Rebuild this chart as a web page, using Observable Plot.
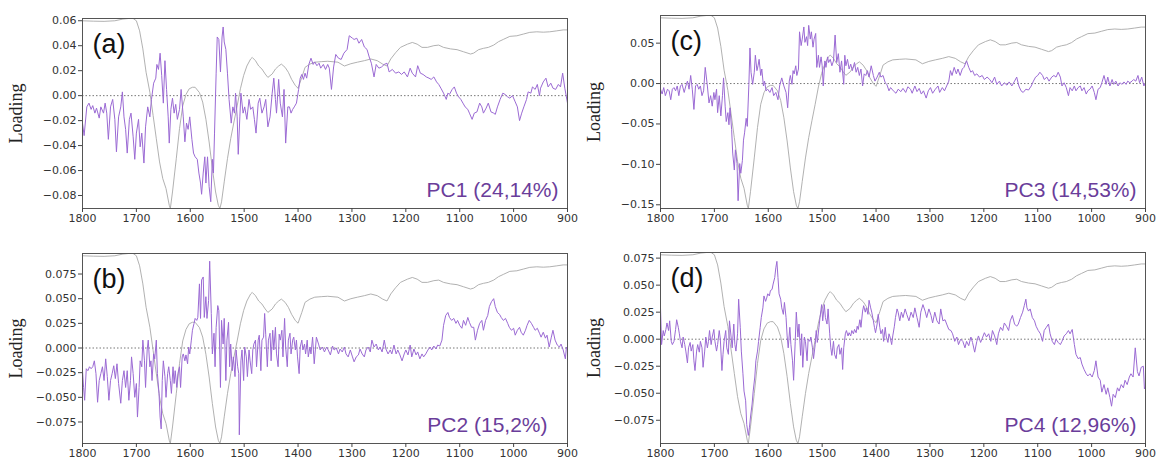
<!DOCTYPE html>
<html><head><meta charset="utf-8">
<script src="https://cdn.jsdelivr.net/npm/d3@7"></script>
<script src="https://cdn.jsdelivr.net/npm/@observablehq/plot@0.6"></script>
<style>
body{margin:0;background:#fff;}
#wrap{position:relative;width:1157px;height:463px;overflow:hidden;background:#fff;}
.panel{position:absolute;}
</style></head><body><div id="wrap"></div>
<script>
const wavenumberTicks = [1800,1700,1600,1500,1400,1300,1200,1100,1000,900];
const ticksA = [-0.08,-0.06,-0.04,-0.02,0,0.02,0.04,0.06];
const ticksC = [-0.15,-0.10,-0.05,0,0.05];
const ticksBD = [-0.075,-0.05,-0.025,0,0.025,0.05,0.075];

const pc1 = [[1800,-0.022],[1797,-0.032],[1792,-0.009],[1788,-0.006],[1784,-0.011],[1781,-0.008],[1777,-0.014],[1774,-0.010],[1769,-0.018],[1766,-0.009],[1761,-0.014],[1758,-0.006],[1755,-0.014],[1752,-0.035],[1748,-0.009],[1744,-0.003],[1740,-0.019],[1737,-0.045],[1733,-0.017],[1729,-0.009],[1726,0.003],[1723,-0.017],[1720,-0.027],[1717,-0.046],[1713,-0.019],[1710,-0.014],[1706,-0.033],[1703,-0.051],[1700,-0.030],[1696,-0.019],[1693,-0.041],[1690,-0.030],[1686,-0.054],[1683,-0.025],[1679,-0.009],[1675,-0.017],[1672,-0.003],[1668,0.010],[1664,0.014],[1662,0.025],[1659,0.021],[1656,0.034],[1653,0.016],[1650,-0.006],[1647,0.028],[1644,0.005],[1641,-0.017],[1639,-0.038],[1636,-0.011],[1633,-0.002],[1630,-0.014],[1627,-0.007],[1624,-0.019],[1620,-0.011],[1617,0.005],[1613,-0.017],[1610,-0.037],[1607,-0.022],[1604,-0.027],[1601,-0.017],[1597,-0.035],[1594,-0.046],[1591,-0.049],[1587,-0.051],[1584,-0.062],[1581,-0.070],[1579,-0.079],[1576,-0.062],[1573,-0.049],[1571,-0.070],[1568,-0.049],[1565,-0.073],[1562,-0.085],[1559,-0.051],[1557,-0.062],[1555,-0.030],[1552,0.018],[1550,0.047],[1547,0.045],[1544,0.019],[1541,0.047],[1539,0.055],[1537,0.043],[1534,0.037],[1531,0.018],[1528,-0.003],[1524,-0.022],[1521,-0.009],[1518,-0.014],[1516,0.002],[1513,-0.017],[1511,-0.047],[1508,-0.017],[1506,0.002],[1502,-0.014],[1499,-0.009],[1495,-0.019],[1491,-0.003],[1488,-0.011],[1484,-0.009],[1481,-0.019],[1478,-0.030],[1474,-0.006],[1471,-0.002],[1467,-0.014],[1463,-0.009],[1460,-0.003],[1456,-0.025],[1452,-0.017],[1448,0.002],[1445,0.014],[1442,-0.003],[1440,-0.014],[1436,0.013],[1433,-0.006],[1429,-0.017],[1426,0.005],[1423,-0.038],[1419,-0.009],[1416,-0.009],[1413,-0.014],[1410,-0.011],[1407,-0.009],[1403,-0.006],[1399,0.005],[1396,0.014],[1393,0.017],[1390,0.013],[1387,0.018],[1384,0.014],[1380,0.025],[1376,0.030],[1372,0.025],[1369,0.027],[1365,0.024],[1361,0.026],[1358,0.022],[1353,0.025],[1349,0.021],[1345,0.025],[1342,0.022],[1338,0.005],[1334,0.023],[1330,0.033],[1325,0.030],[1320,0.029],[1315,0.034],[1309,0.037],[1305,0.048],[1299,0.046],[1296,0.045],[1291,0.046],[1287,0.042],[1282,0.045],[1277,0.039],[1272,0.037],[1268,0.031],[1264,0.026],[1259,0.015],[1255,0.025],[1250,0.022],[1245,0.023],[1240,0.025],[1235,0.026],[1231,0.019],[1225,0.021],[1219,0.018],[1213,0.019],[1208,0.017],[1203,0.019],[1197,0.015],[1192,0.022],[1188,0.018],[1182,0.015],[1178,0.024],[1173,0.018],[1168,0.017],[1162,0.015],[1157,0.014],[1153,0.013],[1148,0.015],[1143,0.011],[1139,0.009],[1135,0.006],[1130,0.002],[1125,-0.003],[1122,0.002],[1119,0.001],[1114,0.005],[1110,0.007],[1106,0.002],[1102,-0.001],[1098,-0.003],[1094,-0.006],[1090,-0.009],[1085,-0.011],[1082,-0.014],[1077,-0.019],[1073,-0.014],[1068,-0.013],[1063,-0.006],[1059,-0.009],[1056,-0.014],[1051,-0.010],[1047,-0.006],[1042,-0.013],[1037,-0.014],[1034,-0.015],[1030,-0.009],[1025,-0.003],[1020,0.002],[1016,0.001],[1011,-0.001],[1007,-0.002],[1002,0.000],[997,-0.005],[993,-0.009],[989,-0.020],[985,-0.014],[981,-0.009],[976,-0.003],[973,0.003],[968,0.002],[965,0.007],[960,0.005],[956,0.009],[952,0.000],[950,0.006],[945,0.011],[940,0.014],[936,0.007],[931,0.010],[927,0.006],[922,0.005],[917,0.009],[913,0.007],[909,0.018],[905,0.006],[900,-0.006]];

const pc2 = [[1800,-0.023],[1798,-0.040],[1796,-0.053],[1793,-0.021],[1790,-0.023],[1787,-0.019],[1784,-0.021],[1781,-0.019],[1778,-0.013],[1775,-0.026],[1772,-0.055],[1769,-0.033],[1766,-0.026],[1763,-0.019],[1760,-0.033],[1757,-0.011],[1754,-0.029],[1751,-0.053],[1748,-0.033],[1745,-0.026],[1742,-0.018],[1739,-0.031],[1736,-0.016],[1733,-0.036],[1729,-0.056],[1726,-0.033],[1723,-0.023],[1720,-0.040],[1717,-0.023],[1714,-0.053],[1711,-0.033],[1709,-0.009],[1706,-0.026],[1703,-0.050],[1700,-0.036],[1698,-0.070],[1695,-0.040],[1693,-0.013],[1690,-0.019],[1688,0.008],[1685,-0.013],[1683,-0.040],[1680,-0.002],[1678,0.008],[1675,-0.019],[1673,-0.013],[1671,-0.033],[1668,-0.006],[1666,-0.011],[1663,0.008],[1661,-0.026],[1658,-0.046],[1656,-0.070],[1654,-0.082],[1652,-0.033],[1650,-0.013],[1647,-0.029],[1645,-0.050],[1642,-0.026],[1640,-0.019],[1637,-0.033],[1635,-0.046],[1632,-0.019],[1630,-0.036],[1628,-0.023],[1625,-0.040],[1623,-0.026],[1620,-0.019],[1618,-0.040],[1615,-0.009],[1613,-0.006],[1610,-0.013],[1608,-0.007],[1605,-0.016],[1603,0.001],[1601,-0.006],[1598,0.008],[1596,0.018],[1593,0.025],[1591,0.030],[1588,0.028],[1586,0.031],[1583,0.065],[1581,0.030],[1579,0.069],[1576,0.072],[1574,0.031],[1571,0.052],[1569,0.030],[1566,0.048],[1564,0.088],[1561,0.035],[1559,-0.006],[1556,0.015],[1554,-0.019],[1552,0.021],[1549,0.043],[1547,0.038],[1544,-0.040],[1542,0.028],[1539,0.004],[1537,0.030],[1534,-0.033],[1532,0.008],[1529,0.026],[1527,-0.019],[1525,0.004],[1522,-0.023],[1520,-0.009],[1517,-0.029],[1515,-0.002],[1512,-0.019],[1510,-0.026],[1509,-0.088],[1506,-0.013],[1504,-0.002],[1501,-0.033],[1499,0.001],[1496,-0.009],[1494,-0.029],[1491,-0.002],[1489,-0.013],[1486,-0.026],[1484,-0.002],[1482,0.004],[1479,0.008],[1477,-0.019],[1474,0.008],[1472,0.013],[1469,-0.023],[1467,0.008],[1464,0.011],[1462,0.035],[1460,0.014],[1457,-0.019],[1455,0.008],[1452,0.015],[1450,-0.013],[1447,0.018],[1445,-0.002],[1442,0.021],[1440,-0.006],[1437,-0.019],[1435,0.014],[1433,0.008],[1430,0.018],[1428,-0.009],[1425,0.030],[1423,0.001],[1420,-0.019],[1418,0.008],[1415,0.015],[1413,-0.006],[1410,0.008],[1408,0.011],[1405,-0.002],[1403,0.008],[1401,-0.009],[1398,-0.026],[1396,0.001],[1393,0.008],[1391,-0.002],[1388,0.004],[1386,-0.006],[1383,0.008],[1381,-0.009],[1378,0.001],[1376,-0.006],[1373,0.011],[1370,-0.016],[1366,0.011],[1362,0.004],[1359,-0.002],[1355,0.001],[1351,-0.004],[1347,0.001],[1344,-0.002],[1340,-0.007],[1336,0.002],[1333,-0.002],[1329,0.000],[1325,-0.006],[1322,-0.001],[1318,-0.004],[1314,0.001],[1311,-0.006],[1307,-0.009],[1303,-0.002],[1299,-0.009],[1296,-0.014],[1292,-0.009],[1288,-0.007],[1285,-0.001],[1281,-0.006],[1277,-0.009],[1274,-0.002],[1270,0.001],[1266,-0.004],[1263,0.008],[1259,0.001],[1255,0.004],[1251,-0.002],[1248,0.001],[1244,-0.004],[1240,0.008],[1237,-0.001],[1233,-0.006],[1229,-0.002],[1226,-0.006],[1222,0.003],[1218,-0.006],[1215,-0.002],[1211,-0.007],[1207,-0.013],[1203,-0.006],[1200,-0.002],[1196,-0.007],[1192,0.003],[1189,-0.009],[1185,-0.001],[1181,-0.007],[1178,-0.004],[1174,-0.011],[1170,-0.006],[1167,-0.009],[1163,-0.006],[1159,-0.002],[1155,0.001],[1152,-0.002],[1148,0.002],[1144,-0.001],[1141,0.003],[1137,0.002],[1133,0.008],[1130,0.023],[1126,0.033],[1122,0.036],[1119,0.031],[1115,0.028],[1111,0.030],[1107,0.025],[1104,0.028],[1100,0.023],[1096,0.020],[1093,0.028],[1089,0.023],[1085,0.031],[1082,0.026],[1078,0.021],[1074,0.021],[1071,0.008],[1067,0.018],[1063,0.025],[1059,0.028],[1056,0.018],[1052,0.028],[1048,0.033],[1045,0.042],[1041,0.047],[1037,0.050],[1034,0.042],[1030,0.036],[1026,0.034],[1023,0.031],[1019,0.028],[1015,0.030],[1011,0.025],[1008,0.021],[1004,0.018],[1000,0.020],[997,0.013],[993,0.018],[989,0.021],[986,0.016],[982,0.013],[978,0.018],[975,0.023],[971,0.028],[967,0.025],[963,0.021],[960,0.018],[956,0.020],[952,0.015],[949,0.011],[945,0.016],[941,0.010],[938,0.013],[934,0.001],[930,0.011],[927,0.018],[923,0.008],[919,0.003],[915,0.001],[912,0.004],[908,-0.002],[904,-0.011],[902,0.001],[900,-0.001]];

const pc3 = [[1800,-0.007],[1797,-0.013],[1794,-0.005],[1791,-0.015],[1787,-0.007],[1784,-0.009],[1781,-0.020],[1778,-0.007],[1775,-0.005],[1772,-0.009],[1769,-0.003],[1766,-0.015],[1763,-0.003],[1760,-0.001],[1756,-0.011],[1753,-0.003],[1750,0.003],[1747,-0.007],[1744,0.010],[1741,-0.007],[1738,-0.032],[1735,-0.003],[1732,-0.001],[1729,-0.007],[1726,-0.003],[1723,-0.015],[1720,-0.009],[1717,0.020],[1713,-0.003],[1710,-0.024],[1707,-0.015],[1704,-0.028],[1701,-0.011],[1699,-0.020],[1696,-0.007],[1694,-0.036],[1691,-0.015],[1688,-0.040],[1685,-0.015],[1683,0.007],[1680,-0.028],[1678,-0.047],[1675,-0.036],[1673,-0.051],[1671,-0.030],[1668,-0.057],[1666,-0.086],[1663,-0.107],[1661,-0.082],[1658,-0.099],[1656,-0.145],[1653,-0.099],[1651,-0.111],[1648,-0.095],[1646,-0.070],[1644,-0.061],[1641,-0.043],[1639,-0.053],[1636,-0.001],[1634,0.044],[1632,0.014],[1629,-0.001],[1626,0.014],[1624,0.035],[1621,0.016],[1619,0.022],[1617,0.030],[1614,0.010],[1612,0.018],[1609,-0.003],[1607,0.003],[1604,-0.009],[1601,-0.007],[1597,-0.011],[1593,-0.005],[1590,-0.015],[1586,-0.011],[1582,-0.020],[1579,-0.003],[1575,0.007],[1571,-0.003],[1567,-0.011],[1564,-0.030],[1561,0.003],[1559,0.010],[1556,-0.001],[1554,0.016],[1552,0.012],[1549,0.022],[1547,0.010],[1544,0.018],[1542,0.064],[1539,0.047],[1537,0.055],[1534,0.070],[1532,0.051],[1529,0.058],[1527,0.047],[1525,0.072],[1522,0.055],[1520,0.064],[1517,0.045],[1515,0.055],[1512,0.062],[1510,0.020],[1507,0.035],[1505,0.020],[1502,0.033],[1500,0.022],[1498,-0.003],[1495,0.028],[1493,0.020],[1490,0.033],[1488,0.026],[1485,0.030],[1482,0.022],[1479,0.028],[1476,0.060],[1473,0.026],[1470,0.037],[1467,0.014],[1464,0.028],[1460,-0.001],[1458,0.035],[1456,0.022],[1453,0.030],[1450,0.018],[1447,0.024],[1444,0.016],[1440,0.026],[1437,0.014],[1434,0.020],[1431,0.010],[1428,0.018],[1425,-0.003],[1422,0.012],[1419,0.010],[1416,0.016],[1413,0.008],[1409,0.022],[1405,0.010],[1402,0.003],[1398,0.008],[1394,0.014],[1391,0.008],[1387,0.010],[1383,0.001],[1380,-0.001],[1376,-0.009],[1373,-0.005],[1368,-0.009],[1363,-0.012],[1359,-0.007],[1354,-0.010],[1350,-0.006],[1345,-0.011],[1341,-0.004],[1336,-0.007],[1333,-0.012],[1328,-0.003],[1324,-0.010],[1320,-0.006],[1316,-0.013],[1312,-0.009],[1307,-0.018],[1303,-0.009],[1299,-0.005],[1295,-0.012],[1290,-0.007],[1285,-0.003],[1282,-0.011],[1277,-0.005],[1273,-0.009],[1269,-0.003],[1265,0.003],[1262,0.016],[1259,0.010],[1255,0.020],[1251,0.012],[1248,0.018],[1244,0.010],[1240,0.018],[1237,0.020],[1232,0.028],[1228,0.020],[1224,0.014],[1221,0.016],[1217,0.010],[1213,0.012],[1208,0.008],[1203,0.010],[1199,0.005],[1194,0.008],[1189,0.005],[1185,0.001],[1180,0.008],[1176,-0.001],[1171,0.003],[1167,-0.003],[1162,0.001],[1157,-0.002],[1153,0.002],[1148,-0.003],[1143,0.003],[1139,0.008],[1135,-0.003],[1131,-0.009],[1127,-0.011],[1122,-0.007],[1117,-0.008],[1112,-0.003],[1108,0.003],[1104,0.008],[1100,0.010],[1096,0.014],[1091,0.010],[1088,0.005],[1083,0.008],[1079,0.003],[1074,0.008],[1070,0.010],[1066,0.008],[1062,0.014],[1058,0.008],[1055,-0.003],[1051,0.001],[1047,-0.005],[1043,-0.015],[1040,-0.005],[1036,-0.009],[1032,-0.003],[1029,-0.009],[1025,-0.005],[1021,-0.003],[1018,-0.009],[1014,-0.005],[1010,-0.013],[1007,-0.009],[1003,-0.007],[999,-0.003],[995,-0.011],[992,-0.020],[988,-0.007],[984,-0.005],[981,0.001],[977,0.010],[973,-0.001],[970,0.008],[966,-0.003],[962,0.005],[959,-0.001],[955,0.003],[951,-0.003],[947,0.001],[944,-0.001],[940,0.002],[936,-0.001],[933,0.003],[929,0.001],[925,0.003],[922,0.005],[918,0.003],[914,0.010],[911,0.001],[907,0.008],[903,-0.003],[900,0.001]];

const pc4 = [[1800,0.029],[1798,-0.005],[1795,0.008],[1793,0.003],[1790,0.009],[1788,0.015],[1785,0.008],[1783,0.017],[1780,-0.002],[1778,-0.005],[1775,-0.002],[1772,0.009],[1770,0.018],[1767,0.011],[1765,0.005],[1763,-0.002],[1760,-0.008],[1758,0.002],[1755,-0.005],[1753,-0.011],[1750,-0.022],[1748,-0.008],[1745,-0.003],[1743,-0.011],[1740,-0.005],[1738,-0.020],[1736,-0.029],[1733,-0.011],[1731,-0.005],[1728,-0.012],[1726,-0.002],[1723,-0.008],[1721,-0.026],[1718,-0.011],[1716,0.002],[1713,-0.008],[1711,-0.002],[1709,0.008],[1706,-0.005],[1704,0.002],[1701,0.009],[1699,-0.002],[1696,-0.011],[1694,-0.005],[1691,0.008],[1689,0.000],[1686,-0.029],[1684,-0.014],[1682,-0.002],[1679,0.008],[1677,-0.008],[1674,-0.014],[1672,0.017],[1669,0.002],[1667,-0.008],[1664,0.014],[1662,-0.005],[1660,-0.011],[1657,0.005],[1655,0.037],[1652,0.011],[1650,-0.011],[1647,-0.032],[1645,-0.048],[1642,-0.057],[1640,-0.079],[1637,-0.089],[1635,-0.082],[1633,-0.072],[1630,-0.060],[1628,-0.048],[1625,-0.035],[1623,-0.020],[1620,-0.011],[1618,-0.002],[1615,0.011],[1613,0.020],[1610,0.029],[1608,0.040],[1605,0.035],[1603,0.038],[1601,0.042],[1598,0.040],[1596,0.045],[1593,0.046],[1591,0.051],[1588,0.057],[1586,0.066],[1584,0.072],[1582,0.057],[1580,0.042],[1577,0.037],[1575,0.029],[1572,0.023],[1570,0.034],[1567,0.020],[1565,0.003],[1563,-0.008],[1560,0.011],[1558,-0.005],[1555,-0.020],[1553,-0.038],[1550,-0.002],[1548,0.025],[1545,0.002],[1543,0.014],[1540,-0.015],[1538,0.005],[1536,-0.026],[1533,0.002],[1531,-0.002],[1528,-0.020],[1526,0.000],[1523,-0.002],[1521,0.002],[1518,-0.008],[1516,-0.018],[1513,-0.005],[1511,0.008],[1509,-0.003],[1506,0.011],[1504,0.020],[1501,0.032],[1499,0.017],[1496,0.032],[1494,0.020],[1491,0.014],[1489,0.028],[1486,0.005],[1484,-0.008],[1482,-0.015],[1479,-0.002],[1477,-0.014],[1474,-0.018],[1472,-0.008],[1469,-0.005],[1467,-0.014],[1464,-0.008],[1462,-0.028],[1460,-0.008],[1457,0.005],[1455,0.008],[1452,0.003],[1450,0.006],[1447,0.003],[1445,0.008],[1442,0.005],[1440,0.009],[1437,0.006],[1435,0.012],[1433,0.009],[1430,0.018],[1428,0.011],[1425,0.026],[1423,0.031],[1420,0.025],[1418,0.029],[1415,0.023],[1413,0.036],[1410,0.029],[1408,0.025],[1405,0.017],[1403,0.011],[1401,0.006],[1398,0.014],[1396,0.023],[1393,0.011],[1391,0.005],[1388,0.009],[1386,-0.002],[1383,0.011],[1381,0.002],[1378,-0.003],[1376,0.005],[1374,0.002],[1371,-0.005],[1369,0.003],[1366,0.012],[1364,0.020],[1361,0.028],[1359,0.025],[1356,0.017],[1353,0.025],[1350,0.020],[1346,0.028],[1343,0.023],[1339,0.017],[1335,0.025],[1331,0.020],[1328,0.029],[1324,0.020],[1320,0.011],[1317,0.025],[1313,0.032],[1309,0.026],[1306,0.020],[1302,0.028],[1298,0.022],[1295,0.015],[1291,0.025],[1287,0.017],[1283,0.014],[1280,0.028],[1276,0.017],[1272,0.018],[1269,0.014],[1265,0.009],[1261,0.008],[1258,0.005],[1254,-0.002],[1250,0.002],[1247,-0.005],[1243,0.000],[1239,-0.002],[1235,-0.008],[1232,-0.002],[1228,-0.006],[1224,0.002],[1221,-0.003],[1217,-0.012],[1213,-0.002],[1210,0.003],[1206,-0.003],[1202,0.002],[1199,0.006],[1195,0.002],[1191,0.005],[1187,-0.002],[1184,0.008],[1180,0.003],[1176,-0.005],[1173,0.005],[1169,0.011],[1165,0.008],[1162,0.015],[1158,0.012],[1154,0.008],[1151,0.017],[1147,0.022],[1143,0.014],[1139,0.012],[1136,0.014],[1132,0.020],[1128,0.025],[1125,0.031],[1122,0.037],[1120,0.029],[1117,0.026],[1114,0.028],[1110,0.020],[1106,0.017],[1103,0.012],[1099,0.008],[1095,0.005],[1091,-0.002],[1088,0.008],[1084,0.011],[1080,0.014],[1077,0.005],[1073,-0.002],[1069,-0.005],[1066,0.000],[1062,-0.003],[1058,-0.005],[1055,-0.002],[1051,0.003],[1047,0.005],[1043,0.008],[1040,0.005],[1036,0.009],[1032,-0.005],[1029,-0.014],[1025,-0.018],[1021,-0.017],[1018,-0.023],[1014,-0.028],[1010,-0.032],[1007,-0.034],[1003,-0.032],[999,-0.035],[995,-0.029],[992,-0.020],[988,-0.035],[984,-0.038],[981,-0.049],[977,-0.042],[973,-0.051],[970,-0.045],[966,-0.054],[963,-0.062],[960,-0.051],[956,-0.054],[952,-0.045],[949,-0.048],[945,-0.042],[941,-0.045],[938,-0.038],[934,-0.042],[930,-0.035],[927,-0.032],[923,-0.035],[919,-0.008],[915,-0.030],[912,-0.034],[908,-0.026],[904,-0.025],[902,-0.046],[900,-0.044]];

// mean absorbance spectrum, normalised 0..1 (drawn in grey, scaled to each panel's range)
const spectrum = [[1800,0.988],[1780,0.986],[1760,0.985],[1740,0.988],[1725,0.997],[1715,1.0],[1706,1.0],[1700,0.988],[1694,0.935],[1688,0.84],[1682,0.717],[1675,0.612],[1669,0.49],[1663,0.367],[1657,0.245],[1651,0.157],[1645,0.105],[1639,0.017],[1637,0.0],[1633,0.087],[1626,0.262],[1620,0.42],[1614,0.54],[1608,0.60],[1602,0.63],[1596,0.638],[1591,0.638],[1583,0.61],[1577,0.56],[1571,0.47],[1565,0.35],[1559,0.21],[1553,0.087],[1548,0.017],[1545,0.0],[1542,0.035],[1537,0.14],[1531,0.262],[1525,0.367],[1519,0.455],[1513,0.54],[1507,0.63],[1501,0.70],[1495,0.75],[1488,0.787],[1485,0.795],[1479,0.778],[1473,0.75],[1467,0.734],[1461,0.708],[1456,0.69],[1448,0.708],[1442,0.734],[1436,0.75],[1431,0.76],[1424,0.743],[1418,0.717],[1412,0.68],[1405,0.647],[1400,0.633],[1393,0.69],[1387,0.743],[1378,0.76],[1369,0.77],[1356,0.773],[1345,0.775],[1326,0.77],[1314,0.75],[1302,0.762],[1290,0.77],[1277,0.778],[1265,0.787],[1253,0.778],[1243,0.76],[1235,0.75],[1228,0.787],[1219,0.82],[1210,0.848],[1197,0.865],[1188,0.874],[1179,0.865],[1170,0.848],[1160,0.848],[1148,0.857],[1139,0.86],[1130,0.848],[1117,0.84],[1105,0.836],[1093,0.825],[1080,0.813],[1074,0.818],[1065,0.836],[1056,0.843],[1047,0.848],[1037,0.86],[1028,0.878],[1019,0.89],[1007,0.906],[994,0.909],[982,0.918],[970,0.927],[957,0.93],[945,0.928],[933,0.93],[920,0.935],[908,0.94],[900,0.94]];

const panelLetters = ["(a)","(b)","(c)","(d)"];
const pcLabels = ["PC1 (24,14%)","PC2 (15,2%)","PC3 (14,53%)","PC4 (12,96%)"];
const yDomains = [[-0.0904,0.0618],[-0.0968,0.0958],[-0.1546,0.0842],[-0.0965,0.0802]];

const layout = [
  {data: pc1, letter: 0, yd: 0, ticks: ticksA, fmt: ".2f", left: 0,   top: 0,   w: 578, h: 232, mt: 18, mb: 24, ml: 82, mr: 11, pcDx: -9},
  {data: pc2, letter: 1, yd: 1, ticks: ticksBD, fmt: ".3f", left: 0,   top: 232, w: 578, h: 231, mt: 21, mb: 20, ml: 82, mr: 11, pcDx: -20},
  {data: pc3, letter: 2, yd: 2, ticks: ticksC, fmt: ".2f", left: 578, top: 0,   w: 579, h: 232, mt: 15, mb: 24, ml: 82, mr: 12, pcDx: -9},
  {data: pc4, letter: 3, yd: 3, ticks: ticksBD, fmt: ".3f", left: 578, top: 232, w: 579, h: 231, mt: 20, mb: 20, ml: 82, mr: 12, pcDx: -9}
];

const wrap = document.getElementById("wrap");
for (const p of layout) {
  const [lo, hi] = yDomains[p.yd];
  const grey = spectrum.map(([x, s]) => ({x, y: lo + s * (hi - lo)}));
  const chart = Plot.plot({
    width: p.w, height: p.h,
    marginTop: p.mt, marginBottom: p.mb, marginLeft: p.ml, marginRight: p.mr,
    style: {fontFamily: "'DejaVu Sans', sans-serif", fontSize: "11px", color: "#333", background: "#fff", overflow: "visible"},
    x: {domain: [1800, 900]},
    y: {domain: [lo, hi]},
    marks: [
      Plot.ruleY([0], {stroke: "#777", strokeDasharray: "1.5,2", strokeWidth: 1}),
      Plot.line(grey, {x: "x", y: "y", stroke: "#a8a8a8", strokeWidth: 0.9, clip: true}),
      Plot.line(p.data, {x: d => d[0], y: d => d[1], stroke: "#9b6ad4", strokeWidth: 1, clip: true}),
      Plot.frame({stroke: "#555", strokeWidth: 1}),
      Plot.axisX(wavenumberTicks, {tickSize: 4, tickPadding: 2, label: null, tickFormat: d => String(d), stroke: "#444"}),
      Plot.axisY(p.ticks, {tickSize: 4, tickPadding: 2, label: null, tickFormat: d3.format(p.fmt), stroke: "#444"}),
      Plot.text([panelLetters[p.letter]], {frameAnchor: "top-left", text: d => d, textAnchor: "start", lineAnchor: "top", dx: 10, dy: 15, fontSize: 27, fontFamily: "'Liberation Sans', Arial, sans-serif", fill: "#111"}),
      Plot.text([pcLabels[p.letter]], {frameAnchor: "bottom-right", text: d => d, textAnchor: "end", lineAnchor: "top", dx: p.pcDx, dy: -26, fontSize: 21, fontFamily: "'Liberation Sans', Arial, sans-serif", fill: "#6a3d9a"}),
      Plot.text(["Loading"], {frameAnchor: "left", text: d => d, rotate: -90, dx: -66, textAnchor: "middle", lineAnchor: "middle", fontSize: 18, fontFamily: "'Liberation Serif', 'DejaVu Serif', serif", fill: "#222"})
    ]
  });
  const box = document.createElement("div");
  box.className = "panel";
  box.style.left = p.left + "px";
  box.style.top = p.top + "px";
  box.appendChild(chart);
  wrap.appendChild(box);
}
</script>
</body></html>
